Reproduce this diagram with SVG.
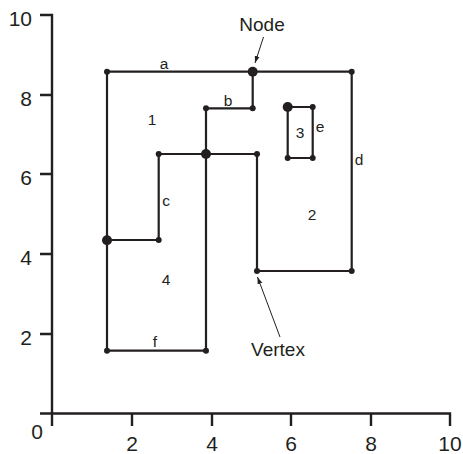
<svg xmlns="http://www.w3.org/2000/svg" width="463" height="454" viewBox="0 0 463 454">
<style>
.ax{stroke:#231f20;stroke-width:2.4;fill:none}
.ln{stroke:#231f20;stroke-width:2.2;fill:none;stroke-linecap:square}
.dot{fill:#231f20}
.num{font-family:"Liberation Sans",Arial,sans-serif;font-size:21px;fill:#231f20}
.lbl{font-family:"Liberation Sans",Arial,sans-serif;font-size:15.5px;fill:#231f20}
.ann{font-family:"Liberation Sans",Arial,sans-serif;font-size:19px;fill:#231f20}
.arr{stroke:#231f20;stroke-width:1;fill:none}
</style>
<defs>
<marker id="ah" viewBox="0 0 10 10" refX="10" refY="5" markerWidth="7" markerHeight="7" orient="auto" markerUnits="userSpaceOnUse">
<path d="M0,1.5 L10,5 L0,8.5 z" fill="#231f20"/>
</marker>
</defs>
<rect width="463" height="454" fill="#fff"/>
<g id="axes">
<path class="ax" d="M40,15 H52 V426"/>
<path class="ax" d="M40,95 H52 M40,174 H52 M40,254 H52 M40,334 H52 M40,413.5 H450 V426"/>
<path class="ax" d="M132,413.5 V426 M212,413.5 V426 M291,413.5 V426 M371,413.5 V426"/>
<g class="num" text-anchor="end">
<text x="32" y="26">10</text>
<text x="32" y="106">8</text>
<text x="32" y="185">6</text>
<text x="32" y="265">4</text>
<text x="32" y="345">2</text>
<text x="43" y="439">0</text>
</g>
<g class="num" text-anchor="middle">
<text x="132" y="451">2</text>
<text x="212" y="451">4</text>
<text x="291" y="451">6</text>
<text x="371" y="451">8</text>
<text x="450" y="451">10</text>
</g>
</g>
<g id="connectors">
<path class="ln" d="M107,71.7 H351.7 V271 H257 V154"/>
<path class="ln" d="M107,71.7 V350.7 H206 V108.3 H252.7 V71.7"/>
<path class="ln" d="M107,240 H158.7 V154 H257"/>
<path class="ln" d="M287.7,107 H312.7 V158 H287.7 Z"/>
</g>
<g id="vertices">
<circle class="dot" cx="107" cy="71.7" r="3"/>
<circle class="dot" cx="351.7" cy="71.7" r="3"/>
<circle class="dot" cx="351.7" cy="271" r="3"/>
<circle class="dot" cx="257" cy="271" r="3"/>
<circle class="dot" cx="257" cy="154" r="3"/>
<circle class="dot" cx="107" cy="350.7" r="3"/>
<circle class="dot" cx="206" cy="350.7" r="3"/>
<circle class="dot" cx="206" cy="108.3" r="3"/>
<circle class="dot" cx="252.7" cy="108.3" r="3"/>
<circle class="dot" cx="158.7" cy="240" r="3"/>
<circle class="dot" cx="158.7" cy="154" r="3"/>
<circle class="dot" cx="312.7" cy="107" r="3"/>
<circle class="dot" cx="312.7" cy="158" r="3"/>
<circle class="dot" cx="287.7" cy="158" r="3"/>
</g>
<g id="nodes">
<circle class="dot" cx="252.7" cy="71.7" r="5"/>
<circle class="dot" cx="107" cy="240.3" r="5"/>
<circle class="dot" cx="206" cy="154" r="5"/>
<circle class="dot" cx="287.7" cy="107" r="5"/>
</g>
<g id="labels" class="lbl" text-anchor="middle">
<text x="164" y="69">a</text>
<text x="228" y="106">b</text>
<text x="152" y="125">1</text>
<text x="166" y="206">c</text>
<text x="359" y="165">d</text>
<text x="320" y="132">e</text>
<text x="300" y="138">3</text>
<text x="312" y="220">2</text>
<text x="166" y="285">4</text>
<text x="155" y="347">f</text>
</g>
<g id="annotations">
<text class="ann" x="262" y="31" text-anchor="middle">Node</text>
<path class="arr" d="M263.5,37 L255,63" marker-end="url(#ah)"/>
<text class="ann" x="278" y="356" text-anchor="middle">Vertex</text>
<path class="arr" d="M280,337 L257.5,277" marker-end="url(#ah)"/>
</g>
</svg>
